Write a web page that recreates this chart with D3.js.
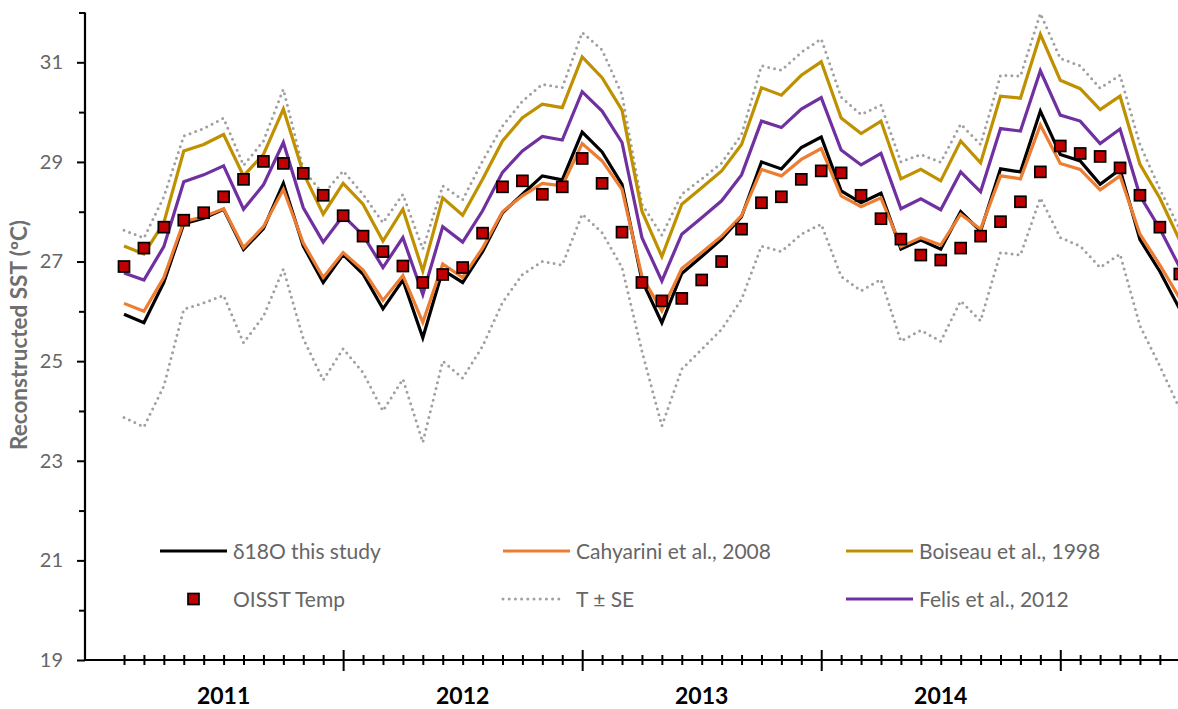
<!DOCTYPE html>
<html>
<head>
<meta charset="utf-8">
<script src="https://cdn.jsdelivr.net/npm/d3@7"></script>
<style>
  html, body { margin: 0; padding: 0; background: #fff; }
  svg { display: block; font-family: Lato, "Open Sans", sans-serif; }
</style>
</head>
<body>
<svg id="chart" width="1178" height="709"></svg>
<script>
// Monthly samples (index 0 = first month of the record)
const months = d3.range(0, 54);
const yearLabels = ["2011", "2012", "2013", "2014"];
const yTicks = d3.range(19, 33);

// δ18O-derived SST, this study
const d18O = [25.94, 25.77, 26.58, 27.76, 27.87, 28.05, 27.24, 27.66, 28.57, 27.31,
  26.58, 27.14, 26.75, 26.05, 26.63, 25.47, 26.83, 26.58, 27.20, 27.98,
  28.35, 28.72, 28.64, 29.60, 29.20, 28.55, 26.62, 25.77, 26.76, 27.10,
  27.45, 27.90, 29.00, 28.86, 29.29, 29.50, 28.42, 28.18, 28.37, 27.25,
  27.43, 27.25, 28.00, 27.61, 28.86, 28.80, 30.02, 29.15, 29.02, 28.55,
  28.85, 27.44, 26.80, 26.04];

// Cahyarini et al., 2008 calibration
const cahyarini = [26.16, 26.00, 26.68, 27.80, 27.90, 28.06, 27.28, 27.70, 28.45, 27.37,
  26.68, 27.18, 26.83, 26.22, 26.72, 25.78, 26.95, 26.68, 27.27, 28.00,
  28.32, 28.57, 28.52, 29.37, 29.02, 28.45, 26.70, 26.01, 26.86, 27.18,
  27.51, 27.92, 28.85, 28.72, 29.05, 29.27, 28.32, 28.10, 28.28, 27.30,
  27.48, 27.33, 27.95, 27.65, 28.72, 28.66, 29.74, 28.97, 28.85, 28.44,
  28.72, 27.55, 26.93, 26.26];

// Boiseau et al., 1998 calibration
const boiseau = [27.31, 27.15, 27.78, 29.22, 29.35, 29.55, 28.72, 29.15, 30.06, 28.78,
  27.95, 28.57, 28.15, 27.41, 28.05, 26.81, 28.28, 27.93, 28.65, 29.42,
  29.89, 30.16, 30.09, 31.11, 30.69, 30.04, 28.01, 27.10, 28.15, 28.48,
  28.82, 29.35, 30.49, 30.34, 30.74, 31.01, 29.88, 29.57, 29.82, 28.66,
  28.85, 28.62, 29.42, 28.98, 30.32, 30.28, 31.56, 30.64, 30.47, 30.05,
  30.32, 28.95, 28.27, 27.42];

// Felis et al., 2012 calibration
const felis = [26.77, 26.63, 27.30, 28.60, 28.74, 28.92, 28.05, 28.54, 29.39, 28.08,
  27.39, 27.92, 27.53, 26.88, 27.48, 26.34, 27.70, 27.39, 28.02, 28.79,
  29.22, 29.51, 29.44, 30.41, 30.02, 29.39, 27.48, 26.61, 27.55, 27.88,
  28.22, 28.74, 29.82, 29.69, 30.06, 30.29, 29.24, 28.94, 29.17, 28.06,
  28.26, 28.04, 28.80, 28.40, 29.67, 29.62, 30.83, 29.94, 29.82, 29.37,
  29.66, 28.32, 27.66, 26.88];

// T + SE and T - SE envelopes
const upperSE = [27.63, 27.47, 28.30, 29.52, 29.67, 29.88, 28.93, 29.42, 30.46, 28.85,
  28.35, 28.82, 28.35, 27.78, 28.35, 27.25, 28.52, 28.24, 29.02, 29.72,
  30.22, 30.56, 30.49, 31.60, 31.25, 30.35, 28.15, 27.53, 28.35, 28.66,
  28.98, 29.55, 30.93, 30.84, 31.20, 31.47, 30.30, 29.95, 30.14, 29.00,
  29.15, 28.99, 29.76, 29.35, 30.74, 30.72, 31.98, 31.08, 30.93, 30.48,
  30.74, 29.35, 28.45, 27.65];
const lowerSE = [23.87, 23.68, 24.50, 26.04, 26.17, 26.32, 25.37, 25.90, 26.85, 25.45,
  24.62, 25.25, 24.77, 24.00, 24.64, 23.37, 25.00, 24.66, 25.30, 26.18,
  26.74, 27.00, 26.93, 27.95, 27.58, 26.88, 25.20, 23.70, 24.84, 25.24,
  25.64, 26.24, 27.31, 27.20, 27.55, 27.75, 26.70, 26.41, 26.64, 25.40,
  25.62, 25.40, 26.21, 25.81, 27.18, 27.13, 28.28, 27.48, 27.31, 26.88,
  27.15, 25.71, 24.90, 24.04];

// OISST monthly temperature
const oisst = [26.90, 27.27, 27.69, 27.83, 27.98, 28.30, 28.65, 29.01, 28.97, 28.77,
  28.33, 27.92, 27.51, 27.20, 26.91, 26.58, 26.74, 26.88, 27.57, 28.50,
  28.62, 28.35, 28.50, 29.07, 28.57, 27.59, 26.58, 26.21, 26.26, 26.63,
  27.00, 27.65, 28.18, 28.30, 28.65, 28.82, 28.78, 28.33, 27.86, 27.45,
  27.13, 27.03, 27.27, 27.51, 27.80, 28.20, 28.80, 29.32, 29.17, 29.11,
  28.88, 28.33, 27.69, 26.75];

const COLORS = {
  d18O: "#000000",
  cahyarini: "#ED7D31",
  boiseau: "#BF9000",
  felis: "#7030A0",
  se: "#A0A0A0",
  oisst: "#C00000"
};

const svg = d3.select("#chart");
const axisX0 = 85, axisY0 = 660;

const x = d3.scaleLinear().domain([0, 53]).range([124, 1179.8]);
const y = d3.scaleLinear().domain([19, 32]).range([660, 12.5]);

// ---- y axis ----
const yAxis = svg.append("g")
  .attr("transform", `translate(${axisX0},0)`)
  .call(d3.axisLeft(y).tickValues(yTicks).tickSizeOuter(0).tickSize(8).tickPadding(14)
    .tickFormat(d => d % 2 ? d : ""));
yAxis.select(".domain").remove();
yAxis.selectAll(".tick line")
  .attr("stroke", "#000").attr("stroke-width", 2)
  .attr("x2", d => d % 2 ? -8 : -6);
yAxis.selectAll(".tick text")
  .attr("fill", "#666").style("font-size", "20px").style("font-family", "Lato, sans-serif");
svg.append("line")
  .attr("x1", axisX0).attr("x2", axisX0)
  .attr("y1", y(32)).attr("y2", axisY0 + 1)
  .attr("stroke", "#000").attr("stroke-width", 2.2);

// ---- x axis ----
const majorTicks = [11, 23, 35, 47];
const xAxis = svg.append("g")
  .attr("transform", `translate(0,${axisY0})`)
  .call(d3.axisBottom(x).tickValues(months).tickSizeOuter(0).tickFormat(""));
xAxis.select(".domain").remove();
xAxis.selectAll(".tick line")
  .attr("stroke", "#000").attr("stroke-width", 2)
  .attr("y1", d => majorTicks.includes(d) ? -10 : -5)
  .attr("y2", d => majorTicks.includes(d) ? 11 : 5);
svg.append("line")
  .attr("x1", axisX0 - 1).attr("x2", 1178)
  .attr("y1", axisY0).attr("y2", axisY0)
  .attr("stroke", "#000").attr("stroke-width", 2.2);

svg.append("g").selectAll("text")
  .data(yearLabels)
  .join("text")
  .attr("x", (d, i) => x(12 * i + 5))
  .attr("y", 704)
  .attr("text-anchor", "middle")
  .attr("fill", "#000")
  .style("font-size", "23px")
  .style("font-weight", "bold")
  .text(d => d);

// y axis title
svg.append("text")
  .attr("transform", `translate(27,335) rotate(-90)`)
  .attr("text-anchor", "middle")
  .attr("fill", "#6f6f6f")
  .style("font-size", "22.5px")
  .style("font-weight", "bold")
  .text("Reconstructed SST (ºC)");

// ---- series ----
const line = d3.line().x((d, i) => x(months[i])).y(d => y(d));
const plot = svg.append("g");

function drawSE(values) {
  plot.append("path")
    .attr("d", line(values))
    .attr("fill", "none")
    .attr("stroke", COLORS.se)
    .attr("stroke-width", 3)
    .attr("stroke-linecap", "round")
    .attr("stroke-dasharray", "0 6");
}
drawSE(upperSE);
drawSE(lowerSE);

function drawLine(values, color) {
  plot.append("path")
    .attr("d", line(values))
    .attr("fill", "none")
    .attr("stroke", color)
    .attr("stroke-width", 3.2)
    .attr("stroke-linejoin", "miter");
}
drawLine(d18O, COLORS.d18O);
drawLine(cahyarini, COLORS.cahyarini);
drawLine(boiseau, COLORS.boiseau);
drawLine(felis, COLORS.felis);

const sq = 11;
plot.append("g").selectAll("rect")
  .data(oisst)
  .join("rect")
  .attr("x", (d, i) => x(months[i]) - sq / 2)
  .attr("y", d => y(d) - sq / 2)
  .attr("width", sq).attr("height", sq)
  .attr("fill", COLORS.oisst)
  .attr("stroke", "#000")
  .attr("stroke-width", 1.7);

// ---- legend ----
const legend = svg.append("g").style("font-size", "21px").attr("fill", "#666");
const legendItems = [
  { label: "δ18O this study", type: "line", color: COLORS.d18O, lx: 160, ly: 551 },
  { label: "Cahyarini et al., 2008", type: "line", color: COLORS.cahyarini, lx: 503, ly: 551 },
  { label: "Boiseau et al., 1998", type: "line", color: COLORS.boiseau, lx: 846, ly: 551 },
  { label: "OISST Temp", type: "square", color: COLORS.oisst, lx: 160, ly: 599 },
  { label: "T ± SE", type: "dots", color: COLORS.se, lx: 503, ly: 599 },
  { label: "Felis et al., 2012", type: "line", color: COLORS.felis, lx: 846, ly: 599 }
];
legendItems.forEach(it => {
  const g = legend.append("g");
  if (it.type === "line") {
    g.append("line").attr("x1", it.lx).attr("x2", it.lx + 67)
      .attr("y1", it.ly).attr("y2", it.ly)
      .attr("stroke", it.color).attr("stroke-width", 3.2);
  } else if (it.type === "dots") {
    g.append("line").attr("x1", it.lx).attr("x2", it.lx + 61)
      .attr("y1", it.ly).attr("y2", it.ly)
      .attr("stroke", it.color).attr("stroke-width", 3)
      .attr("stroke-linecap", "round").attr("stroke-dasharray", "0 6.2");
  } else {
    g.append("rect").attr("x", it.lx + 33.5 - sq / 2).attr("y", it.ly - sq / 2)
      .attr("width", sq).attr("height", sq)
      .attr("fill", it.color).attr("stroke", "#000").attr("stroke-width", 1.7);
  }
  g.append("text").attr("x", it.lx + 73).attr("y", it.ly + 7.5).text(it.label);
});
</script>
</body>
</html>
